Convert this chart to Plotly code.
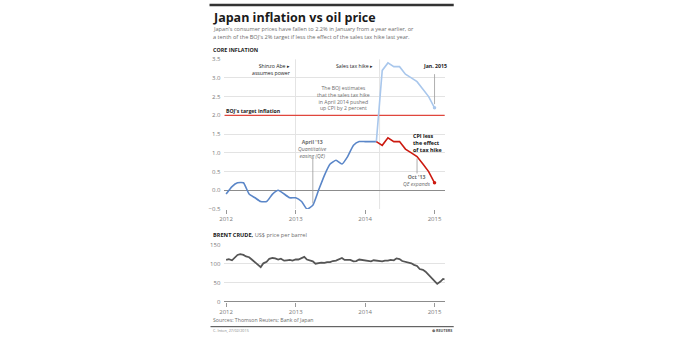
import plotly.graph_objects as go

W, H = 692, 338

# ---- Core CPI (Japan, % y/y) ----
cpi_months = [
    "2012-01-01", "2012-02-01", "2012-03-01", "2012-04-01", "2012-05-01", "2012-06-01",
    "2012-07-01", "2012-08-01", "2012-09-01", "2012-10-01", "2012-11-01", "2012-12-01",
    "2013-01-01", "2013-02-01", "2013-03-01", "2013-04-01", "2013-05-01", "2013-06-01",
    "2013-07-01", "2013-08-01", "2013-09-01", "2013-10-01", "2013-11-01", "2013-12-01",
    "2014-01-01", "2014-02-01", "2014-03-01",
]
cpi_values = [
    -0.1, 0.1, 0.2, 0.2, -0.1, -0.2, -0.3, -0.3, -0.1, 0.0, -0.1, -0.2,
    -0.2, -0.3, -0.5, -0.4, 0.0, 0.4, 0.7, 0.8, 0.7, 0.9, 1.2, 1.3,
    1.3, 1.3, 1.3,
]
tax_months = [
    "2014-03-01", "2014-04-01", "2014-05-01", "2014-06-01", "2014-07-01", "2014-08-01",
    "2014-09-01", "2014-10-01", "2014-11-01", "2014-12-01", "2015-01-01",
]
cpi_with_tax = [1.3, 3.2, 3.4, 3.3, 3.3, 3.1, 3.0, 2.9, 2.7, 2.5, 2.2]
cpi_less_tax = [1.3, 1.2, 1.4, 1.3, 1.3, 1.1, 1.0, 0.9, 0.7, 0.5, 0.2]

cpi_ticks = [-0.5, 0.0, 0.5, 1.0, 1.5, 2.0, 2.5, 3.0, 3.5]
year_ticks = ["2012-01-01", "2013-01-01", "2014-01-01", "2015-01-01"]
year_labels = ["2012", "2013", "2014", "2015"]
boj_target = 2.0

# ---- Brent crude, US$ per barrel (twice-monthly readings) ----
brent_dates = [
    "2012-01-01", "2012-01-15", "2012-02-01", "2012-02-15", "2012-03-01", "2012-03-15",
    "2012-04-01", "2012-04-15", "2012-05-01", "2012-05-15", "2012-06-01", "2012-06-15",
    "2012-07-01", "2012-07-15", "2012-08-01", "2012-08-15", "2012-09-01", "2012-09-15",
    "2012-10-01", "2012-10-15", "2012-11-01", "2012-11-15", "2012-12-01", "2012-12-15",
    "2013-01-01", "2013-01-15", "2013-02-01", "2013-02-15", "2013-03-01", "2013-03-15",
    "2013-04-01", "2013-04-15", "2013-05-01", "2013-05-15", "2013-06-01", "2013-06-15",
    "2013-07-01", "2013-07-15", "2013-08-01", "2013-08-15", "2013-09-01", "2013-09-15",
    "2013-10-01", "2013-10-15", "2013-11-01", "2013-11-15", "2013-12-01", "2013-12-15",
    "2014-01-01", "2014-01-15", "2014-02-01", "2014-02-15", "2014-03-01", "2014-03-15",
    "2014-04-01", "2014-04-15", "2014-05-01", "2014-05-15", "2014-06-01", "2014-06-15",
    "2014-07-01", "2014-07-15", "2014-08-01", "2014-08-15", "2014-09-01", "2014-09-15",
    "2014-10-01", "2014-10-15", "2014-11-01", "2014-11-15", "2014-12-01", "2014-12-15",
    "2015-01-01", "2015-01-15", "2015-02-01", "2015-02-15", "2015-02-23",
]
brent_prices = [
    110, 112, 109, 117, 123, 125, 123, 119, 117, 111, 103, 97,
    91, 101, 105, 113, 115, 114, 111, 113, 108, 109, 110, 108,
    111, 111, 115, 118, 111, 108, 106, 100, 102, 103, 102, 104,
    104, 107, 108, 111, 115, 110, 109, 110, 106, 107, 111, 110,
    108, 107, 106, 109, 108, 107, 106, 108, 108, 110, 109, 114,
    112, 107, 105, 103, 101, 97, 94, 86, 84, 79, 71, 62,
    55, 47, 53, 60, 59,
]
brent_ticks = [0, 50, 100, 150]

# ---- colours ----
BLUE = "#5a86c8"
LIGHT_BLUE = "#a9c7ec"
RED = "#cc1a10"
TARGET_RED = "#e0463c"
GRID = "#e3e3e3"
TXT = "#222222"
GREY_TXT = "#6d6d6d"
FONT = "Open Sans"


def px(x):
    return x / W


def py(y):
    return 1 - y / H


fig = go.Figure()

# BOJ 2% target, drawn across the full panel width
fig.add_trace(go.Scatter(
    x=["2011-12-23", "2015-02-24"], y=[boj_target, boj_target], mode="lines",
    line=dict(color=TARGET_RED, width=1.1),
    xaxis="x", yaxis="y", hoverinfo="skip"))

fig.add_trace(go.Scatter(
    x=cpi_months, y=cpi_values, mode="lines",
    line=dict(color=BLUE, width=1.6, shape="spline", smoothing=0.5),
    xaxis="x", yaxis="y", hoverinfo="skip"))
fig.add_trace(go.Scatter(
    x=tax_months, y=cpi_with_tax, mode="lines",
    line=dict(color=LIGHT_BLUE, width=1.6),
    xaxis="x", yaxis="y", hoverinfo="skip"))
fig.add_trace(go.Scatter(
    x=tax_months, y=cpi_less_tax, mode="lines",
    line=dict(color=RED, width=1.6),
    xaxis="x", yaxis="y", hoverinfo="skip"))
# end-point dots
fig.add_trace(go.Scatter(
    x=[tax_months[-1]], y=[cpi_with_tax[-1]], mode="markers",
    marker=dict(color=LIGHT_BLUE, size=3.5), xaxis="x", yaxis="y", hoverinfo="skip"))
fig.add_trace(go.Scatter(
    x=[tax_months[-1]], y=[cpi_less_tax[-1]], mode="markers",
    marker=dict(color=RED, size=3.5), xaxis="x", yaxis="y", hoverinfo="skip"))

fig.add_trace(go.Scatter(
    x=brent_dates, y=brent_prices, mode="lines",
    line=dict(color="#555555", width=1.8),
    xaxis="x2", yaxis="y2", hoverinfo="skip"))

x_range = ["2011-12-23", "2015-02-24"]
tick_font = dict(family=FONT, size=6, color="#7a7a7a")

axis_x = dict(
    type="date", range=x_range, tickvals=year_ticks, ticktext=year_labels,
    ticks="outside", ticklen=4, tickwidth=0.8, tickcolor="#999999",
    showgrid=False, showline=False, zeroline=False, tickfont=tick_font,
    fixedrange=True,
)

fig.update_layout(
    width=W, height=H,
    margin=dict(l=0, r=0, t=0, b=0),
    paper_bgcolor="white", plot_bgcolor="white",
    showlegend=False,
    font=dict(family=FONT, color=TXT),
    xaxis=dict(axis_x, domain=[px(221), px(443)], anchor="y"),
    yaxis=dict(
        domain=[py(210), py(56.5)], range=[-0.5, 3.5], tickvals=cpi_ticks,
        tickformat=".1f", showgrid=True, gridcolor=GRID, gridwidth=0.8,
        zeroline=True, zerolinecolor="#8c8c8c", zerolinewidth=0.9,
        showline=False, tickfont=tick_font, ticks="", ticklabelstandoff=3,
        anchor="x", fixedrange=True,
    ),
    xaxis2=dict(axis_x, domain=[px(221), px(443)], anchor="y2"),
    yaxis2=dict(
        domain=[py(305), py(246.5)], range=[0, 150], tickvals=brent_ticks,
        showgrid=True, gridcolor=GRID, gridwidth=0.8,
        zeroline=True, zerolinecolor="#8c8c8c", zerolinewidth=0.9,
        showline=False, tickfont=tick_font, ticks="", ticklabelstandoff=3,
        anchor="x2", fixedrange=True,
    ),
)

shapes = []
# top rule and bottom rule of the graphic
shapes.append(dict(type="line", xref="paper", yref="paper",
                   x0=px(206), x1=px(452), y0=py(1), y1=py(1),
                   line=dict(color="#333333", width=2.5)))
shapes.append(dict(type="line", xref="paper", yref="paper",
                   x0=px(207), x1=px(452), y0=py(330.5), y1=py(330.5),
                   line=dict(color="#444444", width=1)))
# event markers: Abe takes office, sales tax hike
shapes.append(dict(type="line", xref="x", yref="y", layer="below",
                   x0="2012-12-31", x1="2012-12-31", y0=-0.5, y1=3.5,
                   line=dict(color="#dcdcdc", width=0.8)))
shapes.append(dict(type="line", xref="x", yref="y", layer="below",
                   x0="2014-03-18", x1="2014-03-18", y0=-0.5, y1=3.5,
                   line=dict(color="#dcdcdc", width=0.8)))
# pointer lines
shapes.append(dict(type="line", xref="x", yref="y",
                   x0="2015-01-01", x1="2015-01-01", y0=3.1, y1=2.3,
                   line=dict(color="#9a9a9a", width=0.8)))
shapes.append(dict(type="line", xref="x", yref="y",
                   x0="2013-04-01", x1="2013-04-01", y0=0.85, y1=-0.35,
                   line=dict(color="#9a9a9a", width=0.8)))
shapes.append(dict(type="line", xref="x", yref="y",
                   x0="2014-10-01", x1="2014-10-01", y0=0.85, y1=0.45,
                   line=dict(color="#9a9a9a", width=0.8)))
fig.update_layout(shapes=shapes)


def note(text, x, y, size=5.6, color=TXT, xanchor="left", xref="paper", yref="paper", align="left"):
    fig.add_annotation(text=text, x=x, y=y, xref=xref, yref=yref,
                       xanchor=xanchor, yanchor="middle", showarrow=False,
                       align=align, font=dict(family=FONT, size=size, color=color))


# header
note("<b>Japan inflation vs oil price</b>", px(207), py(13.5), size=12.5, color="#1a1a1a")
note("Japan's consumer prices have fallen to 2.2% in January from a year earlier, or",
     px(208), py(26), size=5.6, color=GREY_TXT)
note("a tenth of the BOJ's 2% target if less the effect of the sales tax hike last year.",
     px(208), py(34), size=5.6, color=GREY_TXT)
note("<b>CORE INFLATION</b>", px(208), py(47), size=5.4, color="#1a1a1a")

# chart notes
note("Shinzo Abe ▸<br>assumes power", px(290), py(67), size=5.2, xanchor="right", align="right")
note("Sales tax hike ▸", px(373), py(64), size=5.2, xanchor="right", align="right")
note("<b>Jan. 2015</b>", "2015-01-01", py(64), size=5.2, xanchor="center", xref="x")
note("The BOJ estimates<br>that the sales tax hike<br>in April 2014 pushed<br>up CPI by 2 percent",
     px(341), py(96), size=5.2, color=GREY_TXT, xanchor="center", align="center")
note("<b>BOJ's target inflation</b>", px(221), py(109.5), size=5.2)
note("<b>April '13</b><br><i>Quantitative<br>easing (QE)</i>", "2013-04-01", py(148.5),
     size=5.2, color=GREY_TXT, xanchor="center", xref="x", align="center")
note("<b>CPI less<br>the effect<br>of tax hike</b>", px(409), py(142.5), size=5.4, color="#111111")
note("<b>Oct '13</b><br><i>QE expands</i>", "2014-10-01", py(181), size=5.2,
     color=GREY_TXT, xanchor="center", xref="x", align="center")

# oil panel header
note("<b>BRENT CRUDE,</b> <span style='color:#6d6d6d'>US$ price per barrel</span>",
     px(208), py(237), size=5.6, color="#1a1a1a")

# footer
note("Sources: Thomson Reuters; Bank of Japan", px(208), py(324), size=5.2, color=GREY_TXT)
note("C. Inton, 27/02/2015", px(207), py(334.5), size=3.8, color="#888888")
note("<b>⊛ REUTERS</b>", px(452), py(334.5), size=3.8, color="#555555", xanchor="right")

fig.write_html("out.html")
